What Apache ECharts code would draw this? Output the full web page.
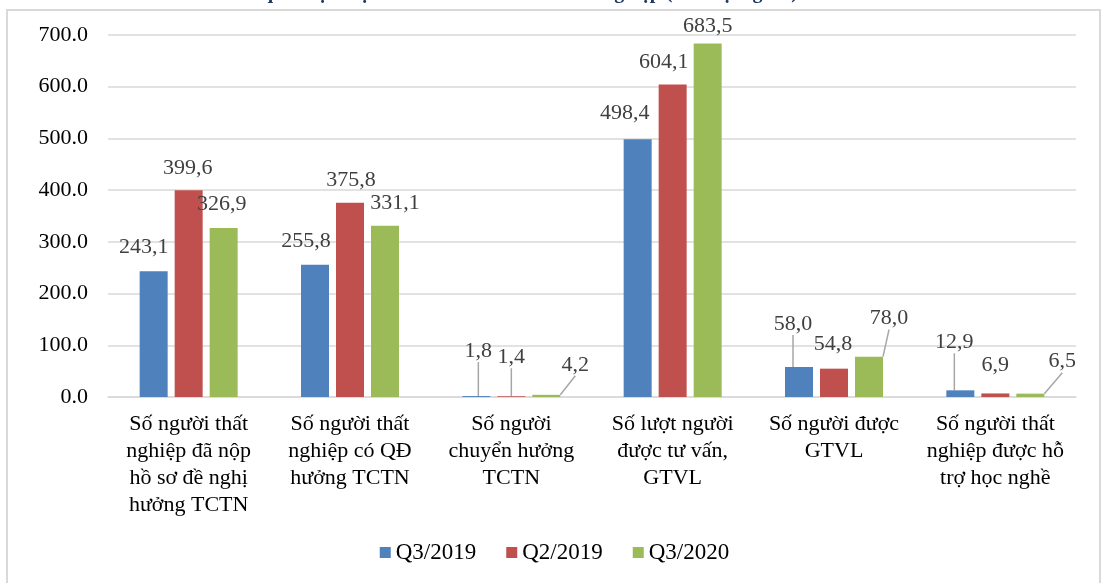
<!DOCTYPE html>
<html>
<head>
<meta charset="utf-8">
<title>Bảo hiểm thất nghiệp</title>
<script src="https://cdn.jsdelivr.net/npm/echarts@6/dist/echarts.min.js"></script>
<style>
  html, body { margin: 0; padding: 0; background: #fff; }
  #chart { width: 1109px; height: 583px; }
</style>
</head>
<body>
<div id="chart"></div>
<script>
// dữ liệu
const categories = [
  'Số người thất\nnghiệp đã nộp\nhồ sơ đề nghị\nhưởng TCTN',
  'Số người thất\nnghiệp có QĐ\nhưởng TCTN',
  'Số người\nchuyển hưởng\nTCTN',
  'Số lượt người\nđược tư vấn,\nGTVL',
  'Số người được\nGTVL',
  'Số người thất\nnghiệp được hỗ\ntrợ học nghề'
]
const seriesNames = ['Q3/2019', 'Q2/2019', 'Q3/2020']
const q3_2019 = [243.1, 255.8, 1.8, 498.4, 58.0, 12.9]
const q2_2019 = [399.6, 375.8, 1.4, 604.1, 54.8, 6.9]
const q3_2020 = [326.9, 331.1, 4.2, 683.5, 78.0, 6.5]
const yMin = 0
const yMax = 700
const yStep = 100

// kiểu dáng
const colors = ['#4F81BD', '#C0504D', '#9BBB59']
const font = 'Liberation Serif'
// dịch nhãn so với vị trí mặc định (dx, dy)
const labelShift = [
  [[-10, -8], [-9, -7], [2, -29], [-13, -10], [-6, -27], [-6, -32]],
  [[-1, -6], [1, -6], [0, -23], [-9, -6], [-1, -8], [0, -12]],
  [[-2, -8], [10, -7], [29, -14], [0, -1], [20, -22], [32, -16]]
]
const leaderOn = [
  [0, 0, 1, 0, 1, 1],
  [0, 0, 1, 0, 0, 0],
  [0, 0, 1, 0, 1, 1]
]
const leaderStyle = { color: '#A6A6A6', width: 1.5 }

const chart = echarts.init(document.getElementById('chart'))

const makeSeries = (name, values, si) => ({
  name: name,
  type: 'bar',
  barWidth: 28,
  barGap: '25%',
  itemStyle: { color: colors[si] },
  data: values.map((v, i) => ({
    value: v,
    labelLine: { show: !!leaderOn[si][i], lineStyle: leaderStyle }
  })),
  label: {
    show: true,
    position: 'top',
    distance: 5,
    fontFamily: font,
    fontSize: 22,
    color: '#404040',
    formatter: p => p.value.toFixed(1).replace('.', ',')
  },
  labelLine: { show: false, length2: 0, lineStyle: leaderStyle },
  labelLayout: p => {
    const s = labelShift[si][p.dataIndex]
    return { dx: s[0], dy: s[1] }
  }
})

chart.setOption({
  animation: false,
  textStyle: { fontFamily: font },
  graphic: [
    {
      type: 'rect',
      silent: true,
      shape: { x: 7, y: 10, width: 1093, height: 600 },
      style: { fill: 'none', stroke: '#D9D9D9', lineWidth: 2 }
    },
    {
      type: 'text',
      silent: true,
      style: {
        text: 'Kết quả thực hiện chính sách bảo hiểm thất nghiệp (Đơn vị: người)',
        x: 226,
        y: 3,
        verticalAlign: 'bottom',
        fontFamily: font,
        fontSize: 20,
        fontWeight: 'bold',
        fill: '#1F3864'
      }
    }
  ],
  grid: {
    left: 108,
    right: 33,
    top: 35,
    bottom: 186,
    containLabel: false,
    outerBoundsMode: 'none'
  },
  legend: {
    data: seriesNames,
    top: 536,
    left: 'center',
    icon: 'rect',
    itemWidth: 11,
    itemHeight: 11,
    itemGap: 30,
    textStyle: { fontFamily: font, fontSize: 23, color: '#000' }
  },
  xAxis: {
    type: 'category',
    data: categories,
    axisLine: { lineStyle: { color: '#D9D9D9', width: 1.5 } },
    axisTick: { show: false },
    axisLabel: {
      interval: 0,
      margin: 14,
      fontFamily: font,
      fontSize: 22,
      lineHeight: 27,
      color: '#000'
    }
  },
  yAxis: {
    type: 'value',
    min: yMin,
    max: yMax,
    interval: yStep,
    axisLine: { show: false },
    axisTick: { show: false },
    splitLine: { lineStyle: { color: '#D9D9D9', width: 1.5 } },
    axisLabel: {
      margin: 20,
      fontFamily: font,
      fontSize: 22,
      color: '#000',
      formatter: v => v.toFixed(1)
    }
  },
  series: [
    makeSeries(seriesNames[0], q3_2019, 0),
    makeSeries(seriesNames[1], q2_2019, 1),
    makeSeries(seriesNames[2], q3_2020, 2)
  ]
})

window.addEventListener('resize', () => chart.resize())
</script>
</body>
</html>
